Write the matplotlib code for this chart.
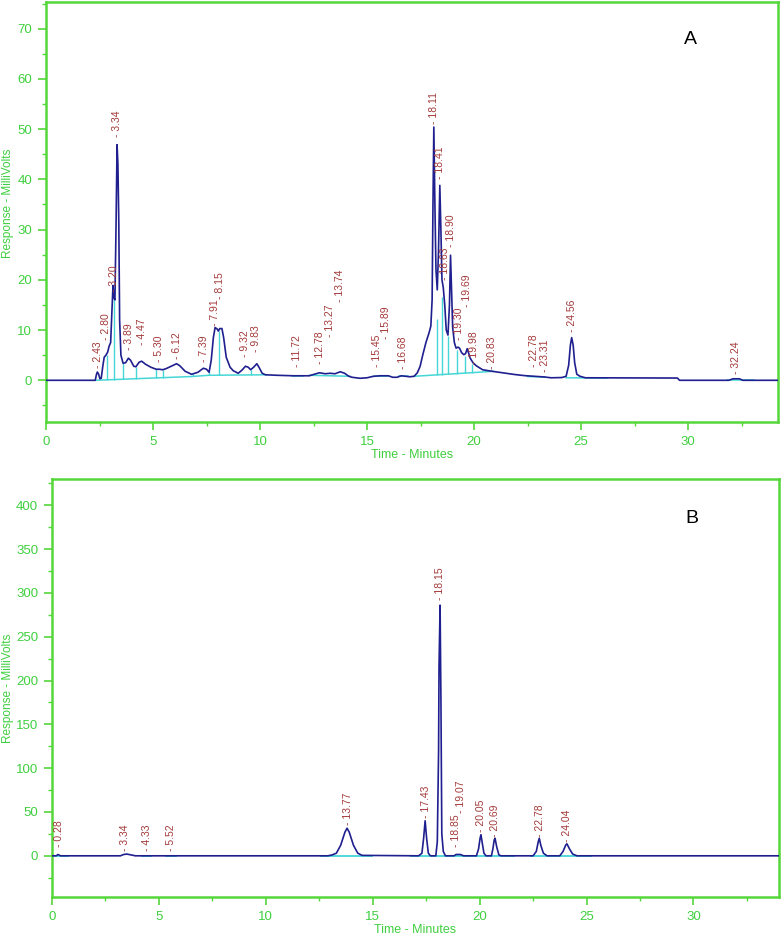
import numpy as np
import matplotlib.pyplot as plt
from matplotlib.ticker import MultipleLocator

GREEN = '#55d63a'
TICKGREEN = '#3fcf3f'
NAVY = '#1f1f8f'
CYAN = '#45d6d6'
LABELRED = '#a33a3a'

plt.rcParams['font.family'] = ['Liberation Sans', 'DejaVu Sans']

# ---- chromatogram A (time in minutes, response in mV) ----
time_a = [0, 2.30, 2.36, 2.40, 2.46, 2.52, 2.58, 2.66, 2.72, 2.80, 2.88, 2.95, 3.02,
          3.08, 3.13, 3.17, 3.22, 3.27, 3.32, 3.36, 3.40, 3.44, 3.50, 3.60, 3.72,
          3.85, 3.95, 4.10, 4.20, 4.35, 4.47, 4.65, 4.90, 5.15, 5.30, 5.45, 5.60,
          5.85, 6.10, 6.25, 6.50, 6.80, 7.10, 7.35, 7.50, 7.62, 7.72, 7.82, 7.90,
          8.00, 8.05, 8.12, 8.22, 8.30, 8.42, 8.60, 8.75, 8.98, 9.15, 9.32, 9.45,
          9.56, 9.70, 9.85, 9.95, 10.10, 10.25, 10.78, 11.56, 12.30, 12.45, 12.78,
          13.05, 13.27, 13.50, 13.75, 13.95, 14.15, 14.30, 14.67, 15.00, 15.30,
          15.60, 16.00, 16.20, 16.40, 16.60, 16.80, 17.00, 17.20, 17.35, 17.48,
          17.60, 17.75, 17.90, 17.98, 18.04, 18.08, 18.12, 18.17, 18.22, 18.28,
          18.34, 18.40, 18.45, 18.50, 18.56, 18.63, 18.70, 18.78, 18.85, 18.90,
          18.95, 19.00, 19.08, 19.16, 19.25, 19.32, 19.42, 19.52, 19.60, 19.68,
          19.74, 19.82, 19.95, 20.10, 20.40, 20.83, 21.40, 21.90, 22.36, 22.78,
          23.29, 23.60, 24.10, 24.30, 24.42, 24.50, 24.56, 24.63, 24.70, 24.80,
          24.95, 25.20, 29.50, 29.60, 31.90, 32.10, 32.40, 32.55, 34.20]
resp_a = [0, 0, 1.2, 1.65, 1.2, 0.3, 0.4, 3.0, 4.6, 5.0, 5.6, 6.8, 7.5,
          14.0, 18.9, 16.5, 16.0, 30, 46.9, 43, 31.8, 12, 5.0, 3.4, 3.5,
          4.4, 4.0, 2.8, 2.7, 3.6, 3.8, 3.2, 2.6, 2.2, 2.2, 2.1, 2.3,
          2.8, 3.3, 2.9, 1.8, 1.2, 1.6, 2.4, 2.2, 1.6, 4.0, 8.5, 10.5,
          10.2, 9.8, 10.3, 10.3, 8.5, 4.6, 2.6, 1.9, 1.4, 2.0, 2.8, 2.6,
          2.1, 2.6, 3.3, 2.6, 1.4, 1.1, 1.0, 0.9, 0.9, 1.1, 1.5,
          1.3, 1.4, 1.3, 1.7, 1.4, 0.8, 0.6, 0.4, 0.5, 0.8,
          0.9, 0.9, 0.6, 0.6, 0.9, 0.8, 0.7, 0.8, 1.5, 2.8,
          5.0, 7.5, 9.5, 10.8, 16, 35, 50.4, 35, 22, 18.0,
          26, 38.8, 30, 20, 18.5, 15, 10.0, 9.0, 15, 24.9,
          18, 10.5, 7.5, 6.4, 6.6, 6.4, 5.5, 5.1, 5.3, 6.3,
          5.5, 4.4, 3.5, 2.9, 2.1, 1.8, 1.45, 1.15, 0.93, 0.8,
          0.66, 0.5, 0.55, 0.8, 3, 7, 8.5, 7, 3.5, 1.2,
          0.8, 0.5, 0.45, 0.0, 0.0, 0.3, 0.3, 0.0, 0.0]

# integration baselines A, each a list of (time, response)
base_a = [[(2.30, 0.0), (5.0, 0.45), (6.8, 0.75), (7.6, 1.0), (10.3, 1.1)],
          [(11.5, 0.9), (12.0, 0.9)],
          [(12.3, 1.0), (14.2, 0.8)],
          [(15.3, 0.8), (16.0, 0.85)],
          [(16.5, 0.8), (16.9, 0.8)],
          [(17.2, 0.8), (20.2, 1.6), (20.9, 1.8)],
          [(22.5, 0.75), (23.3, 0.65)],
          [(24.3, 0.5), (26.2, 0.45)],
          [(31.8, 0.1), (33.1, 0.1)]]
drop_t_a = [2.87, 3.16, 3.62, 4.22, 5.15, 5.48, 6.85, 7.62, 8.07, 9.56,
            18.25, 18.52, 18.76, 19.20, 19.58, 19.92]
drop_v_a = [5.0, 16.3, 3.4, 2.7, 2.2, 2.1, 1.2, 1.6, 9.9, 2.1,
            12.3, 16.6, 8.9, 6.0, 4.9, 3.3]

peaks_a = ['2.43', '2.80', '3.20', '3.34', '3.89', '4.47', '5.30', '6.12', '7.39',
           '7.91', '8.15', '9.32', '9.83', '11.72', '12.78', '13.27', '13.74',
           '15.45', '15.89', '16.68', '18.11', '18.41', '18.63', '18.90', '19.30',
           '19.69', '19.98', '20.83', '22.78', '23.31', '24.56', '32.24']
label_v_a = [2.4, 8.0, 17.6, 48.4, 6.0, 7.0, 3.6, 4.3, 3.6,
             10.9, 16.2, 4.6, 5.6, 2.65, 3.3, 8.6, 15.6,
             2.65, 8.3, 2.3, 51.0, 40.1, 19.9, 26.5, 8.0,
             14.6, 3.3, 2.3, 2.6, 1.65, 9.6, 1.3]

# ---- chromatogram B ----
time_b = [0, 0.20, 0.28, 0.40, 3.20, 3.35, 3.50, 3.70, 3.90, 12.90, 13.10, 13.30,
          13.50, 13.70, 13.80, 13.90, 14.10, 14.30, 14.50, 17.15, 17.30, 17.38,
          17.45, 17.52, 17.60, 17.70, 17.95, 18.02, 18.08, 18.10, 18.15, 18.19,
          18.23, 18.30, 18.40, 18.80, 18.90, 19.10, 19.25, 19.85, 19.95, 20.02,
          20.06, 20.12, 20.20, 20.30, 20.55, 20.62, 20.68, 20.72, 20.80, 20.90,
          21.00, 22.50, 22.65, 22.74, 22.79, 22.86, 22.98, 23.15, 23.75, 23.90,
          24.02, 24.08, 24.20, 24.35, 24.55, 34.0]
resp_b = [0, 0, 1.5, 0, 0, 1.5, 2.0, 1.0, 0, 0, 1.0, 3,
          12, 27, 31.5, 27, 12, 3, 0.5, 0, 3, 20,
          40, 20, 3, 0, 0, 16, 120, 216, 286, 176,
          25, 5, 0, 0, 1.5, 1.5, 0, 0, 8, 20,
          24, 15, 3, 0, 0, 8, 18, 20, 10, 1,
          0, 0, 5, 16, 20, 12, 3, 0, 0, 5,
          12, 13.7, 8, 2, 0, 0]
base_b = [[(0.07, 0), (0.77, 0)], [(4.2, 0), (4.65, 0)], [(5.35, 0), (5.82, 0)],
          [(12.6, 0), (14.95, 0)], [(16.8, 0), (21.6, 0)], [(22.4, 0), (25.2, 0)]]
peaks_b = ['0.28', '3.34', '4.33', '5.52', '13.77', '17.43', '18.15', '18.85',
           '19.07', '20.05', '20.69', '22.78', '24.04']
label_t_b = [0.34, 3.40, 4.42, 5.55, 13.83, 17.49, 18.16, 18.89, 19.12, 20.05,
             20.73, 22.80, 24.10]
label_v_b = [10.6, 5, 5, 5, 35, 43, 292, 10.6, 48.7, 27.7, 22, 22, 16.3]

fig = plt.figure(figsize=(7.82, 9.35), dpi=100)
ax1 = fig.add_axes([46 / 782, 1 - 422 / 935, 732 / 782, 420 / 935])
ax2 = fig.add_axes([52 / 782, 1 - 897 / 935, 727 / 782, 418 / 935])


def style(ax, xmax, ylim, ymaj, ymin):
    ax.set_xlim(0, xmax)
    ax.set_ylim(*ylim)
    for s in ax.spines.values():
        s.set_color(GREEN)
        s.set_linewidth(1.8)
    ax.xaxis.set_major_locator(MultipleLocator(5))
    ax.xaxis.set_minor_locator(MultipleLocator(2.5))
    ax.yaxis.set_minor_locator(MultipleLocator(ymin))
    ax.tick_params(which='major', direction='out', length=6, width=1.2,
                   color=GREEN, labelcolor=TICKGREEN, labelsize=9.5, pad=4)
    ax.tick_params(which='minor', direction='out', length=3, width=1.0, color=GREEN)
    ax.set_xlabel('Time - Minutes', color=TICKGREEN, fontsize=9, labelpad=1)
    ax.set_ylabel('Response - MilliVolts', color=TICKGREEN, fontsize=8.5)
    # no labels on the negative side
    yt = list(np.arange(0, ylim[1], ymaj))
    ax.set_yticks(yt)
    ax.set_yticklabels(['%d' % v for v in yt])


style(ax1, 34.2, (-8.3, 75.3), 10, 5)
style(ax2, 34.0, (-47, 430), 50, 25)
# ylabel sits near the left edge of the figure in both panels
ax1.yaxis.set_label_coords(-32 / 732, 0.52)
ax2.yaxis.set_label_coords(-38 / 727, 0.5)

# A
for seg in base_a:
    ts, vs = zip(*seg)
    ax1.plot(ts, vs, color=CYAN, lw=1.1, zorder=2)
bt = [p[0] for seg in base_a for p in seg]
bv = [p[1] for seg in base_a for p in seg]
ax1.vlines(drop_t_a, np.interp(drop_t_a, bt, bv), drop_v_a, color=CYAN, lw=1.0, zorder=2)
ax1.plot(time_a, resp_a, color=NAVY, lw=1.2, zorder=3)
for lab, v in zip(peaks_a, label_v_a):
    ax1.text(float(lab), v, '- ' + lab, rotation=90, ha='center', va='bottom',
             color=LABELRED, fontsize=7.5)
ax1.text(0.88, 0.91, 'A', transform=ax1.transAxes, fontsize=14, ha='center', va='center')

# B
for seg in base_b:
    ts, vs = zip(*seg)
    ax2.plot(ts, vs, color=CYAN, lw=1.3, zorder=2)
ax2.plot(time_b, resp_b, color=NAVY, lw=1.2, zorder=3)
for lab, t, v in zip(peaks_b, label_t_b, label_v_b):
    ax2.text(t, v, '- ' + lab, rotation=90, ha='center', va='bottom',
             color=LABELRED, fontsize=7.5)
ax2.text(0.88, 0.905, 'B', transform=ax2.transAxes, fontsize=14, ha='center', va='center')

fig.savefig('out.png', dpi=100)
